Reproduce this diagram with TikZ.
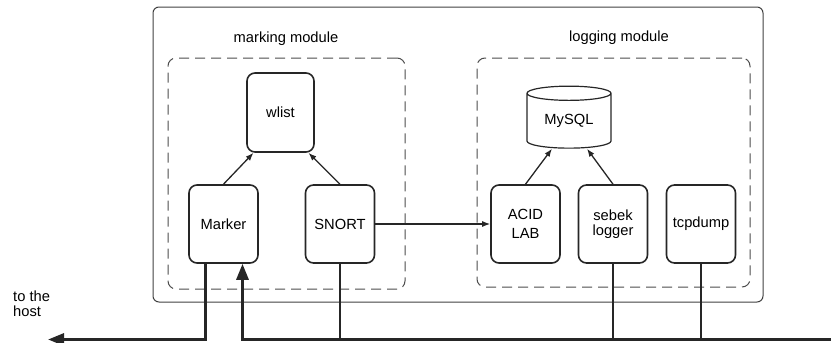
\documentclass[tikz,border=0pt]{standalone}
\usepackage{fontspec}
\setmainfont{Liberation Sans}
\usetikzlibrary{arrows.meta,shapes.geometric}

\begin{document}
\begin{tikzpicture}[x=1pt, y=-1pt, >={Latex[length=8pt,width=6pt]},
    every node/.style={font=\fontsize{14.7}{17}\selectfont},
    unit/.style={draw=black!85, line width=1.6pt, rounded corners=8pt,
        minimum width=69pt, minimum height=78pt, inner sep=2pt, align=center},
    module/.style={draw=black!70, line width=1pt, dash pattern=on 10pt off 6pt,
        rounded corners=8pt, inner sep=0pt},
    bus/.style={line width=3pt, black!85},
    wire/.style={line width=1.3pt, black!85},
    bighead/.style={-{Triangle[length=16pt,width=12pt]}}]
    \useasboundingbox (0,0) rectangle (831,343);

    % Containers
    \node[draw=black!75, line width=1pt, rounded corners=6pt, minimum width=610pt,
        minimum height=295pt] (sensor) at (458,154.5) {};
    \node[module, minimum width=237pt, minimum height=231pt] (marking) at (286.5,173.5) {};
    \node[module, minimum width=273pt, minimum height=229pt] (logging) at (613.5,172.5) {};
    \node (marktitle) at (286,39) {marking module};
    \node (logtitle) at (619,38) {logging module};

    % Nodes
    \node[unit, minimum width=67pt, minimum height=79pt] (wlist) at (280.5,112.5) {wlist};
    \node[unit] (Marker) at (223.5,224) {Marker};
    \node[unit] (SNORT) at (340,224) {SNORT};
    \node[cylinder, shape border rotate=90, aspect=0.29, draw=black!85, line width=1.2pt,
        minimum width=84pt, minimum height=62pt, inner sep=0pt] (MySQL) at (569,121) {MySQL};
    \node[unit] (ACID) at (525.5,224) {ACID\\[2pt]LAB};
    \node[unit] (sebek) at (613,224) {sebek\\[-2pt]logger};
    \node[unit] (tcpdump) at (701,224) {tcpdump};
    \node[align=left, anchor=north west, inner sep=0pt,
        font=\fontsize{14.7}{15}\selectfont] (host) at (13,291) {to the\\host};

    % Line ends
    \coordinate (busR) at (831,339.5);
    \coordinate (hostend) at (48,339.5);

    % Arrows
    \draw[wire,->] (Marker.north) -- ([xshift=-27pt]wlist.south);
    \draw[wire,->] (SNORT.north) -- ([xshift=28pt]wlist.south);
    \draw[wire,->] (ACID.north) -- ([xshift=-17pt]MySQL.south);
    \draw[wire,->] (sebek.north) -- ([xshift=18pt]MySQL.south);
    \draw[wire,->] (SNORT.east) -- (ACID.west);

    % Bus
    \draw[bus, bighead] (busR) -| ([xshift=19pt]Marker.south);
    \draw[bus, bighead] ([xshift=-18pt]Marker.south) |- (hostend);
    \draw[wire] (SNORT.south) -- (SNORT.south |- busR);
    \draw[wire] (sebek.south) -- (sebek.south |- busR);
    \draw[wire] (tcpdump.south) -- (tcpdump.south |- busR);
\end{tikzpicture}
\end{document}
